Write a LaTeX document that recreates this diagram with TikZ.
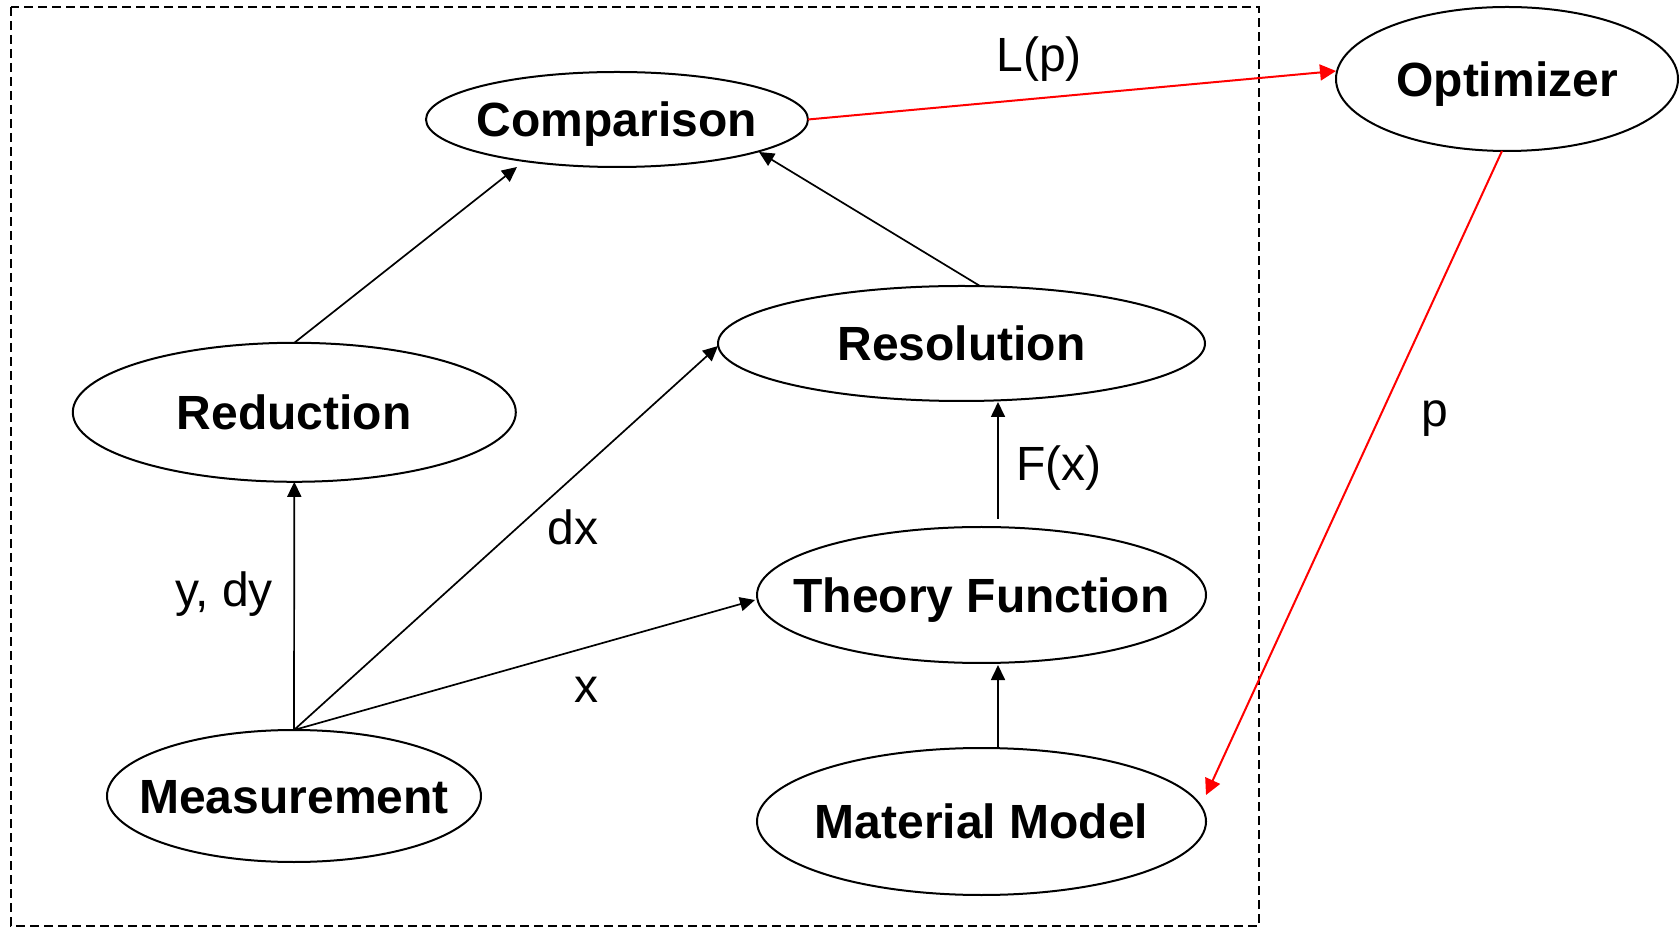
\documentclass[tikz,border=0pt]{standalone}
\usepackage{fontspec}
\setmainfont{Liberation Sans}
\usetikzlibrary{shapes.geometric,arrows.meta,calc}
\begin{document}
\begin{tikzpicture}[x=0.5pt,y=-0.5pt,
  blob/.style={ellipse,draw,line width=1pt,inner sep=0pt,outer sep=0pt},
  lbl/.style={font=\fontsize{24pt}{28pt}\selectfont\bfseries,
    inner sep=0pt,text height=17.2pt,text depth=0pt},
  conn/.style={-{Triangle[length=7.5pt,width=7pt]},line width=0.85pt},
  feed/.style={-{Triangle[length=8pt,width=8pt]},draw=red,fill=red,line width=1pt},
  edgetext/.style={font=\fontsize{24pt}{28pt}\selectfont,anchor=base,inner sep=0pt},
  frame/.style={line width=1pt,dash pattern=on 4.5pt off 2.5pt}]
\useasboundingbox (0,0) rectangle (1680,929);

% model boundary
\draw[frame] (11,7) rectangle (1259,926);

% process blocks
\node[blob,minimum width=191pt,minimum height=47.5pt,label={[lbl]center:Comparison}] (comp) at (617,119.5) {};
\node[blob,minimum width=171pt,minimum height=72pt,label={[lbl]center:Optimizer}] (opt) at (1507,79) {};
\node[blob,minimum width=221.5pt,minimum height=69.5pt,label={[lbl]center:Reduction}] (reduc) at (294.3,412.3) {};
\node[blob,minimum width=243.5pt,minimum height=57.5pt,label={[lbl]center:Resolution}] (resol) at (961.5,343.5) {};
\node[blob,minimum width=224.5pt,minimum height=68pt,label={[lbl]center:Theory Function}] (theory) at (981.5,595) {};
\node[blob,minimum width=224.5pt,minimum height=73.5pt,label={[lbl]center:Material Model}] (mater) at (981.5,821.5) {};
\node[blob,minimum width=187pt,minimum height=66pt,label={[lbl]center:Measurement}] (meas) at (294,796) {};

% data flow
\draw[conn] (meas.north) -- (reduc.south);
\draw[conn] (meas.north) -- ($(resol.west)+(0,2.5)$);
\draw[conn] (meas.north) -- ($(theory.west)+(-2,5)$);
\draw[conn] (reduc.north) -- ($(comp.center)+(-100,47.5)$);
\draw[conn] ($(resol.center)+(18.5,-57.5)$) -- ($(comp.center)+(142,32.5)$);
\draw[conn] ($(mater.north)+(16.5,0)$) -- ($(theory.south)+(16.5,2)$);
\draw[conn] ($(theory.north)+(16.5,-8)$) -- ($(resol.south)+(36.5,1)$);

% optimisation loop
\draw[feed] (comp.east) -- ($(opt.west)+(0,-8)$);
\draw[feed] ($(opt.south)+(-5,0)$) -- ($(mater.center)+(224.5,-26.5)$);

% edge labels
\node[edgetext] (lp) at (1039,72) {L(p)};
\node[edgetext] (pl) at (1435,427) {p};
\node[edgetext] (fx) at (1059,481) {F(x)};
\node[edgetext] (dxl) at (573,545) {dx};
\node[edgetext] (xl) at (586,702) {x};
\node[edgetext] (ydy) at (224,607) {y, dy};
\end{tikzpicture}
\end{document}
